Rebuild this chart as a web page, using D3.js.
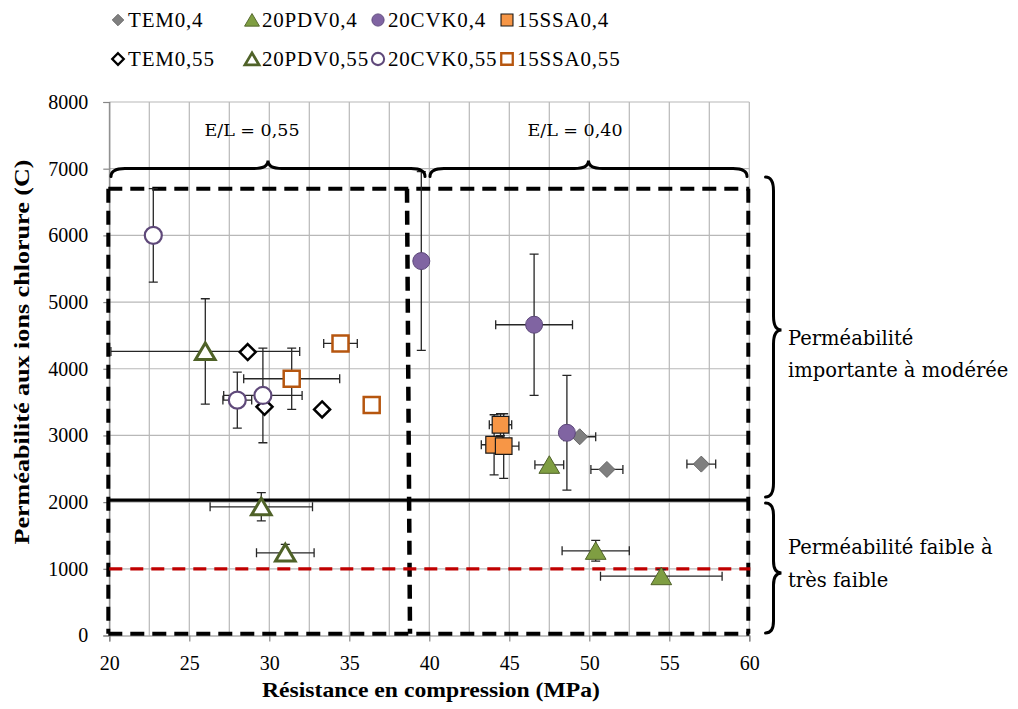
<!DOCTYPE html>
<html><head><meta charset="utf-8">
<script src="https://cdn.jsdelivr.net/npm/d3@7"></script>
<style>body{margin:0;background:#fff}</style>
</head><body>
<svg id="c" width="1018" height="709"></svg>
<script>
// ---------- data ----------
const categories = ["TEM0,4","20PDV0,4","20CVK0,4","15SSA0,4","TEM0,55","20PDV0,55","20CVK0,55","15SSA0,55"];
const xTicks = [20,25,30,35,40,45,50,55,60];
const yTicks = [0,1000,2000,3000,4000,5000,6000,7000,8000];

const tem04X = [49.4, 51.1, 57.0];
const tem04Y = [2980, 2490, 2570];
const tem04EX = [1.0, 1.0, 0.9];
const tem04EY = [0, 0, 0];

const pdv04X = [47.5, 50.4, 54.5];
const pdv04Y = [2560, 1270, 890];
const pdv04EX = [0.9, 2.1, 3.8];
const pdv04EY = [0, 155, 100];

const cvk04X = [39.5, 46.55, 48.6];
const cvk04Y = [5615, 4660, 3040];
const cvk04EX = [0, 2.4, 0];
const cvk04EY = [1340, 1060, 860];

const ssa04X = [44.45, 44.05, 44.65];
const ssa04Y = [3160, 2860, 2840];
const ssa04EX = [0.7, 0.8, 0.95];
const ssa04EY = [165, 450, 485];

const tem055X = [28.65, 29.7, 33.3];
const tem055Y = [4250, 3430, 3390];
const tem055EX = [0, 0, 0];
const tem055EY = [0, 0, 0];

const pdv055X = [26.0, 29.5, 31.0];
const pdv055Y = [4260, 1930, 1240];
const pdv055EX = [5.9, 3.2, 1.8];
const pdv055EY = [790, 212, 125];

const cvk055X = [22.75, 28.0, 29.6];
const cvk055Y = [6000, 3530, 3600];
const cvk055EX = [0, 0.9, 2.45];
const cvk055EY = [700, 420, 710];

const ssa055X = [31.4, 34.45, 36.4];
const ssa055Y = [3850, 4380, 3455];
const ssa055EX = [3.0, 1.05, 0];
const ssa055EY = [460, 0, 0];

// region annotations (values)
const zoneTop = 6700, zoneBottom = 25, zoneSplitX = 38.7;
const limitHigh = 2030, limitLow = 1000;

// ---------- helpers ----------
const svg = d3.select("#c");
const x = d3.scaleLinear().domain([20,60]).range([109.3, 749.3]);
const y = d3.scaleLinear().domain([0,8000]).range([635.5, 102]);
const serif = "'Liberation Serif', 'Times New Roman', serif";
const serif2 = "'DejaVu Serif', Cambria, serif";

function markerPath(shape, s){
  if(shape==="diamond") return `M0,${-s}L${s},0L0,${s}L${-s},0Z`;
  if(shape==="triangle") { const w=s*1.15, h=s; return `M0,${-h}L${w},${h*0.95}L${-w},${h*0.95}Z`; }
  if(shape==="square") return `M${-s},${-s}H${s}V${s}H${-s}Z`;
  return null;
}

const seriesList = [
  {name:categories[0], xs:tem04X, ys:tem04Y, ex:tem04EX, ey:tem04EY, shape:"diamond", fill:"#7f7f7f", stroke:"#666666", sw:1, size:8},
  {name:categories[1], xs:pdv04X, ys:pdv04Y, ex:pdv04EX, ey:pdv04EY, shape:"triangle", fill:"#7f9e42", stroke:"#4f6228", sw:1, size:9},
  {name:categories[2], xs:cvk04X, ys:cvk04Y, ex:cvk04EX, ey:cvk04EY, shape:"circle", fill:"#8064a2", stroke:"#5c477a", sw:1, size:8.5},
  {name:categories[3], xs:ssa04X, ys:ssa04Y, ex:ssa04EX, ey:ssa04EY, shape:"square", fill:"#f79646", stroke:"#1a1a1a", sw:1.2, size:8.3},
  {name:categories[4], xs:tem055X, ys:tem055Y, ex:tem055EX, ey:tem055EY, shape:"diamond", fill:"#ffffff", stroke:"#000000", sw:2.5, size:8},
  {name:categories[5], xs:pdv055X, ys:pdv055Y, ex:pdv055EX, ey:pdv055EY, shape:"triangle", fill:"#ffffff", stroke:"#4f6228", sw:3, size:8.5},
  {name:categories[6], xs:cvk055X, ys:cvk055Y, ex:cvk055EX, ey:cvk055EY, shape:"circle", fill:"#ffffff", stroke:"#5f497a", sw:2.2, size:8.5},
  {name:categories[7], xs:ssa055X, ys:ssa055Y, ex:ssa055EX, ey:ssa055EY, shape:"square", fill:"#ffffff", stroke:"#b6560f", sw:2.5, size:8}
];

// ---------- gridlines ----------
const grid = svg.append("g");
grid.selectAll("line.v").data(d3.range(20, 60.01, 2.5)).join("line")
  .attr("x1", d=>x(d)).attr("x2", d=>x(d)).attr("y1", y(0)).attr("y2", y(8000))
  .attr("stroke", "#b8b8b8").attr("stroke-width", 1.2);
grid.selectAll("line.h").data(yTicks.filter(d=>d>0)).join("line")
  .attr("x1", x(20)).attr("x2", x(60)).attr("y1", d=>y(d)).attr("y2", d=>y(d))
  .attr("stroke", "#b8b8b8").attr("stroke-width", 1.2);

// ---------- axes ----------
const gy = svg.append("g").attr("transform", `translate(${x(20)},0)`)
  .call(d3.axisLeft(y).tickValues(yTicks).tickSize(6).tickPadding(15).tickFormat(d3.format("d")));
const gx = svg.append("g").attr("transform", `translate(0,${y(0)})`)
  .call(d3.axisBottom(x).tickValues(xTicks).tickSize(6).tickPadding(14));
[gx, gy].forEach(g=>{
  g.select(".domain").attr("stroke", "#868686").attr("stroke-width", 1.2);
  g.selectAll(".tick line").attr("stroke", "#868686").attr("stroke-width", 1.2);
  g.selectAll(".tick text").attr("font-family", serif).attr("font-size", 20).attr("fill", "#000");
});

// ---------- zones ----------
const zones = svg.append("g").attr("fill", "none");
const dash = "14,8";
zones.append("path")
  .attr("d", `M${x(20)-1},${y(zoneTop)}H${x(60)}`)
  .attr("stroke", "#000").attr("stroke-width", 4).attr("stroke-dasharray", dash);
zones.append("path")
  .attr("d", `M${x(20)-1},${y(zoneBottom)}H${x(60)}`)
  .attr("stroke", "#000").attr("stroke-width", 4).attr("stroke-dasharray", dash);
zones.append("path")
  .attr("d", `M${x(20)-1},${y(zoneTop)}V${y(zoneBottom)}`)
  .attr("stroke", "#000").attr("stroke-width", 4).attr("stroke-dasharray", dash);
zones.append("path")
  .attr("d", `M${x(60)-1},${y(zoneTop)}V${y(zoneBottom)}`)
  .attr("stroke", "#000").attr("stroke-width", 4).attr("stroke-dasharray", dash);
zones.append("path")
  .attr("d", `M${x(zoneSplitX)-1.5},${y(zoneTop)}L${x(zoneSplitX)+1.5},${y(zoneBottom)}`)
  .attr("stroke", "#000").attr("stroke-width", 4.5).attr("stroke-dasharray", dash);
zones.append("path")
  .attr("d", `M${x(20)-1},${y(limitHigh)}H${x(60)}`)
  .attr("stroke", "#000").attr("stroke-width", 3.2);
zones.append("path")
  .attr("d", `M${x(20)},${y(limitLow)}H${x(60)+1}`)
  .attr("stroke", "#c00000").attr("stroke-width", 3.2).attr("stroke-dasharray", "13,8");

// ---------- error bars ----------
const eb = svg.append("g").attr("stroke", "#262626").attr("stroke-width", 1.3).attr("fill", "none");
const cap = 4.5;
seriesList.forEach(s=>{
  s.xs.forEach((xv,i)=>{
    const cx = x(xv), cy = y(s.ys[i]);
    const ex = s.ex[i], ey = s.ey[i];
    if(ex>0){
      const a = x(xv-ex), b = x(xv+ex);
      eb.append("path").attr("d", `M${a},${cy}H${b}M${a},${cy-cap}V${cy+cap}M${b},${cy-cap}V${cy+cap}`);
    }
    if(ey>0){
      const a = y(s.ys[i]+ey), b = y(s.ys[i]-ey);
      eb.append("path").attr("d", `M${cx},${a}V${b}M${cx-cap},${a}H${cx+cap}M${cx-cap},${b}H${cx+cap}`);
    }
  });
});

// ---------- markers ----------
function drawMarker(g, s, cx, cy, scale){
  if(s.shape==="circle"){
    g.append("circle").attr("cx", cx).attr("cy", cy).attr("r", s.size*scale)
      .attr("fill", s.fill).attr("stroke", s.stroke).attr("stroke-width", s.sw*Math.min(1,scale+0.2));
  } else {
    g.append("path").attr("transform", `translate(${cx},${cy})`)
      .attr("d", markerPath(s.shape, s.size*scale))
      .attr("fill", s.fill).attr("stroke", s.stroke).attr("stroke-width", s.sw*Math.min(1,scale+0.2))
      .attr("stroke-linejoin", "miter");
  }
}
const mk = svg.append("g");
seriesList.forEach(s=>{
  s.xs.forEach((xv,i)=> drawMarker(mk, s, x(xv), y(s.ys[i]), 1));
});

// ---------- braces ----------
function hBrace(x1, x2, yb, h, r){
  const xm = (x1+x2)/2;
  return `M${x1},${yb+h}Q${x1},${yb} ${x1+r},${yb}L${xm-r},${yb}Q${xm},${yb} ${xm},${yb-h}` +
         `Q${xm},${yb} ${xm+r},${yb}L${x2-r},${yb}Q${x2},${yb} ${x2},${yb+h}`;
}
function vBrace(xb, y1, y2, ym, w, r){
  return `M${xb-w},${y1}Q${xb},${y1} ${xb},${y1+r}L${xb},${ym-r}Q${xb},${ym} ${xb+w},${ym}` +
         `Q${xb},${ym} ${xb},${ym+r}L${xb},${y2-r}Q${xb},${y2} ${xb-w},${y2}`;
}
const br = svg.append("g").attr("fill", "none").attr("stroke", "#000").attr("stroke-width", 3).attr("stroke-linecap","round");
br.append("path").attr("d", hBrace(111, 425, 168.5, 8, 14));
br.append("path").attr("d", hBrace(430, 747, 168.5, 8, 14));
br.append("path").attr("d", vBrace(773.5, 177, 497, 330, 8, 14));
br.append("path").attr("d", vBrace(773.5, 503, 633, 573, 8, 12));

// ---------- annotation texts ----------
const ann = svg.append("g").attr("font-family", serif2).attr("fill", "#000");
ann.append("text").attr("x", 252).attr("y", 136).attr("text-anchor", "middle").attr("font-size", 17.5).text("E/L = 0,55");
ann.append("text").attr("x", 575).attr("y", 136).attr("text-anchor", "middle").attr("font-size", 17.5).text("E/L = 0,40");
const ann2 = ann.append("g").attr("font-size", 19.5);
ann2.append("text").attr("x", 788).attr("y", 345).text("Perméabilité");
ann2.append("text").attr("x", 788).attr("y", 377).text("importante à modérée");
ann2.append("text").attr("x", 788).attr("y", 554).text("Perméabilité faible à");
ann2.append("text").attr("x", 788).attr("y", 587).text("très faible");

// ---------- axis titles ----------
svg.append("text").attr("x", 431).attr("y", 697).attr("text-anchor", "middle")
  .attr("font-family", serif).attr("font-weight", "bold").attr("font-size", 22)
  .attr("textLength", 338).attr("lengthAdjust", "spacingAndGlyphs")
  .text("Résistance en compression (MPa)");
svg.append("text").attr("transform", "translate(29,352) rotate(-90)").attr("text-anchor", "middle")
  .attr("font-family", serif).attr("font-weight", "bold").attr("font-size", 22)
  .attr("textLength", 385).attr("lengthAdjust", "spacingAndGlyphs")
  .text("Perméabilité aux ions chlorure (C)");

// ---------- legend ----------
const legX = [118, 252, 378, 507];
const legY = [20, 59];
const lg = svg.append("g");
seriesList.forEach((s, i)=>{
  const col = i % 4, row = Math.floor(i / 4);
  const lx = legX[col], ly = legY[row];
  drawMarker(lg, s, lx, ly, 0.72);
  lg.append("text").attr("x", lx + 10).attr("y", ly + 7)
    .attr("font-family", serif).attr("font-size", 21).attr("letter-spacing", 0.8).text(s.name);
});
</script>
</body></html>
